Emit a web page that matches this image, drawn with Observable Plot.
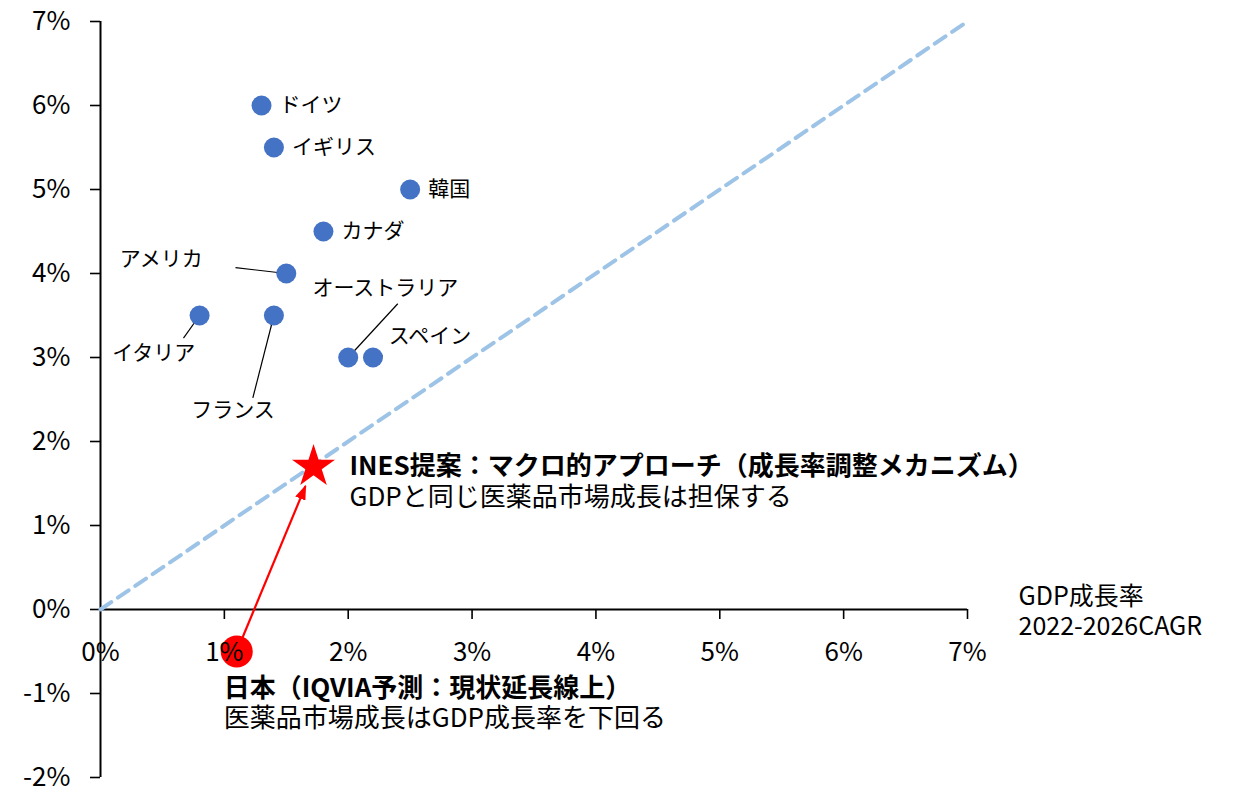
<!DOCTYPE html>
<html><head><meta charset="utf-8">
<script src="https://cdn.jsdelivr.net/npm/d3@7"></script>
<script src="https://cdn.jsdelivr.net/npm/@observablehq/plot@0.6"></script>
<style>html,body{margin:0;padding:0;background:#fff;} svg{display:block}</style>
</head><body><div id="chart"></div>
<script>
// ---- data ----
const countries    = ["ドイツ","イギリス","韓国","カナダ","アメリカ","イタリア","フランス","オーストラリア","スペイン"];
const gdpGrowth    = [1.3, 1.4, 2.5, 1.8, 1.5, 0.8, 1.4, 2.0, 2.2];   // x: GDP成長率 2022-2026 CAGR (%)
const marketGrowth = [6.0, 5.5, 5.0, 4.5, 4.0, 3.5, 3.5, 3.0, 3.0];   // y: 医薬品市場成長率 (%)
const japanPoint   = {name: "日本", x: 1.1, y: -0.5};
const inesPoint    = {name: "INES", x: 1.72, y: 1.7};
const xTicks = [0, 1, 2, 3, 4, 5, 6, 7];
const yTicks = [-2, -1, 0, 1, 2, 3, 4, 5, 6, 7];
const xTitle = ["GDP成長率", "2022-2026CAGR"];
const inesText  = ["INES提案：マクロ的アプローチ（成長率調整メカニズム）", "GDPと同じ医薬品市場成長は担保する"];
const japanText = ["日本（IQVIA予測：現状延長線上）", "医薬品市場成長はGDP成長率を下回る"];

// label placement (annotation layout): countries labelled with leader lines
const leaderNames = ["アメリカ","イタリア","フランス","オーストラリア","スペイン"];
const leaderLabelX = [0.49, 0.43, 1.07, 2.30, 2.66];
const leaderLabelY = [4.17, 3.05, 2.37, 3.83, 3.25];
const leaderLineX  = [1.09, 0.67, 1.23, 2.40, 2.28];
const leaderLineY  = [4.07, 3.23, 2.52, 3.64, 3.02];

// ---- build ----
const W = 1242, H = 787, ML = 100, MR = 275, MT = 21, MB = 10;
const xDomain = [xTicks[0], xTicks[xTicks.length-1]];
const yDomain = [yTicks[0], yTicks[yTicks.length-1]];
const pts = countries.map((c, i) => ({name: c, x: gdpGrowth[i], y: marketGrowth[i]}));
const byName = Object.fromEntries(pts.map(d => [d.name, d]));
const simple = pts.filter(d => !leaderNames.includes(d.name));
const leaders = leaderNames.map((n, i) => ({name: n, lx: leaderLabelX[i], ly: leaderLabelY[i], sx: leaderLineX[i], sy: leaderLineY[i], px: byName[n].x, py: byName[n].y}));

// arrow from Japan to INES, end shortened by a pixel inset
const kx = (W - ML - MR) / (xDomain[1] - xDomain[0]);
const ky = (H - MT - MB) / (yDomain[1] - yDomain[0]);
const pdx = (inesPoint.x - japanPoint.x) * kx, pdy = (inesPoint.y - japanPoint.y) * ky;
const plen = Math.hypot(pdx, pdy);
const endInset = 21;
const f = 1 - endInset / plen;
const arrowData = [{x1: japanPoint.x, y1: japanPoint.y, x2: japanPoint.x + f * (inesPoint.x - japanPoint.x), y2: japanPoint.y + f * (inesPoint.y - japanPoint.y)}];

function arrowHead(color) {
  const ns = "http://www.w3.org/2000/svg";
  const m = document.createElementNS(ns, "marker");
  m.setAttribute("viewBox", "0 -5 10 10");
  m.setAttribute("refX", "9");
  m.setAttribute("refY", "0");
  m.setAttribute("markerWidth", "15");
  m.setAttribute("markerHeight", "11");
  m.setAttribute("markerUnits", "userSpaceOnUse");
  m.setAttribute("preserveAspectRatio", "none");
  m.setAttribute("orient", "auto");
  const p = document.createElementNS(ns, "path");
  p.setAttribute("d", "M0,-5L10,0L0,5Z");
  p.setAttribute("fill", color);
  p.setAttribute("stroke", "none");
  m.appendChild(p);
  return m;
}

const chart = Plot.plot({
  width: W, height: H,
  marginLeft: ML, marginRight: MR, marginTop: MT, marginBottom: MB,
  style: {fontFamily: "'Noto Sans CJK JP', 'Noto Sans', sans-serif", fontSize: "24px", color: "#000", background: "#fff", overflow: "visible"},
  x: {domain: xDomain, axis: null},
  y: {domain: yDomain, axis: null},
  marks: [
    // y axis
    Plot.ruleX([xDomain[0]], {stroke: "#000", strokeWidth: 2}),
    Plot.axisY({ticks: yTicks, tickFormat: d => d + "%", tickSize: 10, tickPadding: 20, fontSize: 26, stroke: "#000", strokeWidth: 1.6}),
    // x axis at y=0
    Plot.ruleY([0], {x1: xDomain[0], x2: xDomain[1], stroke: "#000", strokeWidth: 2}),
    Plot.ruleX(xTicks.slice(1), {x: d => d, y1: () => 0, y2: () => 0, insetBottom: -10, stroke: "#000", strokeWidth: 1.6}),
    Plot.text([xTitle[0]], {x: () => xDomain[1], y: () => 0, dx: 51, dy: -13, text: d => d, textAnchor: "start", fontSize: 25, fill: "#000"}),
    Plot.text([xTitle[1]], {x: () => xDomain[1], y: () => 0, dx: 51, dy: 17, text: d => d, textAnchor: "start", fontSize: 25, fill: "#000"}),
    // diagonal
    Plot.line(xDomain, {x: d => d, y: d => d, stroke: "#9DC3E6", strokeWidth: 4, strokeDasharray: "13,8"}),
    // leader lines
    Plot.link(leaders, {x1: "sx", y1: "sy", x2: "px", y2: "py", stroke: "#000", strokeWidth: 1.2}),
    // arrow
    Plot.link(arrowData, {x1: "x1", y1: "y1", x2: "x2", y2: "y2", stroke: "#FF0000", strokeWidth: 2.2, markerEnd: arrowHead}),
    // points
    Plot.dot(pts, {x: "x", y: "y", r: 10, fill: "#4472C4"}),
    Plot.dot([japanPoint], {x: "x", y: "y", r: 16, fill: "#FF0000"}),
    Plot.dot([inesPoint], {x: "x", y: "y", r: 13.5, symbol: "star", fill: "#FF0000"}),
    // x tick labels (drawn above the points, as in the source)
    Plot.text(xTicks, {x: d => d, y: () => 0, dy: 43, text: d => d + "%", fontSize: 26, fill: "#000"}),
    // labels
    Plot.text(simple, {x: "x", y: "y", text: "name", dx: 18, textAnchor: "start", fontSize: 21, fill: "#000"}),
    Plot.text(leaders, {x: "lx", y: "ly", text: "name", textAnchor: "middle", fontSize: 21, fill: "#000"}),
    Plot.text([inesText[0]], {x: () => inesPoint.x, y: () => inesPoint.y, dx: 36, dy: 0, text: d => d, textAnchor: "start", fontSize: 26, fontWeight: "bold", fill: "#000"}),
    Plot.text([inesText[1]], {x: () => inesPoint.x, y: () => inesPoint.y, dx: 36, dy: 31, text: d => d, textAnchor: "start", fontSize: 26, fill: "#000"}),
    Plot.text([japanText[0]], {x: () => japanPoint.x, y: () => japanPoint.y, dx: -13, dy: 37, text: d => d, textAnchor: "start", fontSize: 26, fontWeight: "bold", fill: "#000"}),
    Plot.text([japanText[1]], {x: () => japanPoint.x, y: () => japanPoint.y, dx: -13, dy: 67, text: d => d, textAnchor: "start", fontSize: 26, fill: "#000"})
  ]
});
document.getElementById("chart").appendChild(chart);
</script>
</body></html>
